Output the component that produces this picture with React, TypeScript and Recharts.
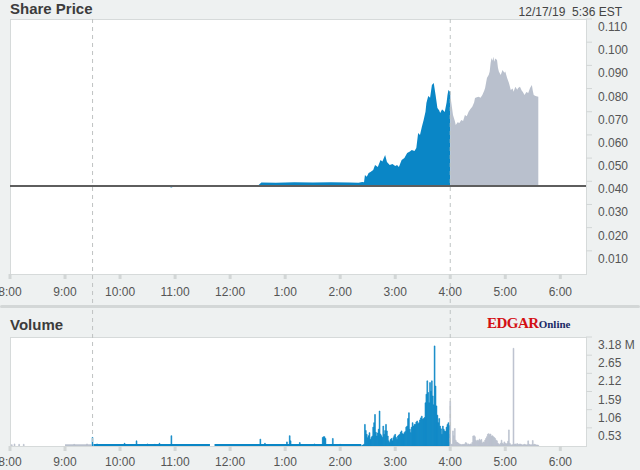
import React from 'react'
import { ComposedChart, Area, Bar, Cell, XAxis, YAxis, ReferenceLine } from 'recharts'

// all times are minutes after 8:00 AM
const hourTicks = [0, 60, 120, 180, 240, 300, 360, 420, 480, 540, 600]
const priceTicks = [0.01, 0.02, 0.03, 0.04, 0.05, 0.06, 0.07, 0.08, 0.09, 0.1, 0.11]
const volumeTicks = [0.53, 1.06, 1.59, 2.12, 2.65, 3.18]
const prevClose = 0.038
const openTime = 90
const closeTime = 480

const preTimes = [0, 16, 18, 60, 66, 72, 80, 90]
const prePrice = [0.038, 0.0376, 0.038, 0.038, 0.0376, 0.0378, 0.0376, 0.038]

const regTimes = [
  90, 96, 100, 104, 108, 114, 120, 126, 132, 170, 176, 180, 270, 274, 290, 310, 330, 350, 370, 380,
  384, 386, 387, 389, 391, 393, 396, 398, 401, 404, 406, 409, 411, 414, 417, 420, 422, 424, 427, 430,
  433, 436, 438, 441, 443, 445, 447, 449, 451, 453, 454, 456, 458, 460, 462, 464, 466, 468, 469, 471,
  472, 474, 476, 477, 478, 480,
]
const regPrice = [
  0.038, 0.038, 0.0384, 0.0376, 0.0384, 0.038, 0.0383, 0.0377, 0.038, 0.038, 0.0373, 0.038, 0.038, 0.0395, 0.0394, 0.0396, 0.0395, 0.0396, 0.0395, 0.0394,
  0.0397, 0.0396, 0.0427, 0.042, 0.0436, 0.044, 0.0449, 0.047, 0.0462, 0.0492, 0.0485, 0.0513, 0.0483, 0.047, 0.0474, 0.0466, 0.047, 0.0462, 0.0492, 0.05,
  0.0522, 0.0528, 0.0535, 0.0531, 0.0544, 0.0608, 0.06, 0.0634, 0.0664, 0.07, 0.0738, 0.0768, 0.076, 0.0815, 0.0824, 0.0772, 0.0716, 0.0705, 0.0695, 0.071,
  0.0707, 0.0699, 0.074, 0.0772, 0.0794, 0.0785,
]

const postTimes = [
  480, 481, 483, 485, 486, 488, 490, 492, 494, 496, 498, 500, 502, 504, 506, 507, 509, 511, 513, 515,
  517, 518, 520, 522, 523, 524, 525, 526, 527, 528, 529, 531, 532, 533, 535, 537, 539, 540, 542, 544,
  546, 548, 549, 551, 553, 554, 556, 558, 559, 561, 563, 565, 567, 569, 570, 571, 573, 576,
]
const postPrice = [
  0.0785, 0.0743, 0.0686, 0.066, 0.0643, 0.0655, 0.0651, 0.0664, 0.066, 0.0686, 0.068, 0.07, 0.0712, 0.0722, 0.074, 0.0759, 0.0762, 0.0765, 0.076, 0.0772,
  0.079, 0.0802, 0.0846, 0.086, 0.0873, 0.091, 0.0932, 0.092, 0.0937, 0.0916, 0.093, 0.0923, 0.089, 0.0873, 0.0858, 0.088, 0.0868, 0.0873, 0.0846, 0.0824,
  0.0794, 0.08, 0.0786, 0.0808, 0.0795, 0.0802, 0.0808, 0.079, 0.0786, 0.0772, 0.0785, 0.0781, 0.0802, 0.0815, 0.079, 0.0772, 0.0768, 0.0765,
]

// volume, millions of shares
const preVolTimes = [2, 5, 10, 15, 70, 84]
const preVol = [0.04, 0.06, 0.05, 0.05, 0.05, 0.06]
const quietVolTimes = [90, 95, 125, 138, 150, 158, 163, 176, 273, 278, 302, 305, 306, 316, 332, 341, 342, 343, 344, 352, 360]
const quietVol = [0.25, 0.06, 0.08, 0.15, 0.06, 0.05, 0.08, 0.3, 0.2, 0.08, 0.12, 0.3, 0.15, 0.1, 0.06, 0.25, 0.27, 0.27, 0.22, 0.22, 0.05]
const activeStart = 384 // one value a minute from 2:24
const activeVol = [
  0.02, 0.03, 0.05, 0.63, 0.45, 0.34, 0.24, 0.3, 0.39, 0.19, 0.25, 0.29, 0.55, 0.68, 0.92, 0.4, 0.29, 0.38, 0.49, 1.02,
  0.35, 0.3, 0.25, 0.58, 0.34, 0.45, 0.63, 0.44, 0.29, 0.15, 0.1, 0.19, 0.22, 0.15, 0.24, 0.3, 0.34, 0.25, 0.19, 0.29,
  0.32, 0.34, 0.4, 0.44, 0.36, 0.34, 0.39, 0.42, 0.55, 0.58, 0.8, 0.97, 0.49, 0.39, 0.55, 0.68, 0.58, 0.63, 0.63, 0.7,
  0.73, 0.65, 0.68, 0.76, 0.82, 0.87, 0.78, 0.8, 0.83, 1.26, 1.51, 1.9, 1.56, 1.26, 1.85, 1.6, 1.9, 1.46, 1.2, 2.92,
  1.75, 1.17, 0.9, 0.68, 0.8, 0.58, 0.5, 0.34, 0.58, 0.49, 0.44, 0.42, 0.55, 0.63, 0.68, 0.6,
]
const postStart = 480 // one value a minute from 4:00
const postVol = [
  1.3, 0.05, 0.05, 0.44, 0.3, 0.51, 0.17, 0.12, 0.1, 0.08, 0.06, 0.05, 0.04, 0.04, 0.05, 0.04, 0.06, 0.1, 0.08, 0.04,
  0.06, 0.04, 0.06, 0.05, 0.1, 0.29, 0.3, 0.27, 0.17, 0.13, 0.17, 0.15, 0.2, 0.16, 0.19, 0.08, 0.12, 0.1, 0.17, 0.22,
  0.27, 0.34, 0.36, 0.33, 0.35, 0.29, 0.3, 0.27, 0.25, 0.22, 0.17, 0.15, 0.08, 0.06, 0.04, 0.08, 0.17, 0.08, 0.06, 0.12,
  0.08, 0.06, 0.07, 0.14, 0.47, 0.08, 0.04, 0.03, 0.04, 2.85, 0.05, 0.06, 0.04, 0.07, 0.05, 0.04, 0.06, 0.05, 0.04, 0.03,
  0.04, 0.05, 0.04, 0.03, 0.04, 0.15, 0.05, 0.04, 0.03, 0.04, 0.16, 0.04, 0.05, 0.04, 0.03, 0.03, 0.02,
]
// the thin run of small trades along the bottom (two blue runs, broken near 11:40)
const floorPreTimes = [60, 89]
const floorPre = [0.05, 0.05]
const floorMorningTimes = [91, 218]
const floorMorning = [0.06, 0.06]
const floorAfternoonTimes = [223, 383]
const floorAfternoon = [0.06, 0.06]

const BLUE = '#0a86c6'
const GRAY = '#b9c0cd'
const BG = '#eef1f1'
const FONT = '"Liberation Sans", Arial, sans-serif'

function addRows(rows: Map<number, any>, times: number[], vals: (number | null)[], key: string) {
  times.forEach((t, i) => {
    const r = rows.get(t) ?? { t }
    r[key] = vals[i]
    rows.set(t, r)
  })
}

const priceMap = new Map<number, any>()
addRows(priceMap, preTimes, prePrice, 'pre')
addRows(priceMap, regTimes, regPrice, 'reg')
addRows(priceMap, postTimes, postPrice, 'post')
const priceData = [...priceMap.values()].sort((a, b) => a.t - b.t)

const volMap = new Map<number, any>()
addRows(volMap, preVolTimes, preVol, 'vol')
addRows(volMap, quietVolTimes, quietVol, 'vol')
addRows(volMap, activeVol.map((_, i) => activeStart + i), activeVol, 'vol')
addRows(volMap, postVol.map((_, i) => postStart + i), postVol, 'vol')
addRows(volMap, floorPreTimes, floorPre, 'floorPre')
addRows(volMap, floorMorningTimes, floorMorning, 'floorAm')
addRows(volMap, floorAfternoonTimes, floorAfternoon, 'floorPm')
const volumeData = [...volMap.values()].sort((a, b) => a.t - b.t)

const fmtHour = (t: number) => {
  const h = 8 + Math.round(t / 60)
  return `${((h - 1) % 12) + 1}:00`
}

function RightTick(props: any) {
  const { x, y, payload, kind } = props
  const v = payload.value
  let label = v.toFixed(3)
  if (kind === 'vol') label = v === 3.18 ? '3.18 M' : v.toFixed(2)
  return (
    <text x={x + 4} y={y + 8} fill="#555" fontSize={12} fontFamily={FONT} textAnchor="start" dominantBaseline="central">
      {label}
    </text>
  )
}

// dashed session marker that runs on past the plot area
const sessionLine = (extendUp: number, extendDown: number) => (p: any) => {
  const top = Math.min(p.y1, p.y2) - extendUp
  const bottom = Math.max(p.y1, p.y2) + extendDown
  return <line x1={p.x1} x2={p.x2} y1={top} y2={bottom} stroke="#bfc3c3" strokeWidth={1} strokeDasharray="4 4" />
}

const xAxisProps = {
  type: 'number' as const,
  dataKey: 't',
  domain: [0, 628],
  ticks: hourTicks,
  tickFormatter: fmtHour,
  interval: 0,
  allowDataOverflow: true,
  axisLine: false,
  tickSize: 5,
  tickLine: { stroke: '#d2d6d6', strokeWidth: 3 },
  tick: { fill: '#555', fontSize: 12, fontFamily: FONT },
}

export default function App() {
  return (
    <div style={{ position: 'absolute', left: 0, top: 0, width: 640, height: 470, background: BG, overflow: 'hidden', fontFamily: FONT }}>
      <div style={{ position: 'absolute', left: 10, top: 19, width: 577, height: 256, background: '#fff', border: '1px solid #d6dada', boxSizing: 'border-box' }} />
      <div style={{ position: 'absolute', left: 10, top: 337, width: 577, height: 110, background: '#fff', border: '1px solid #d6dada', boxSizing: 'border-box' }} />
      <div style={{ position: 'absolute', left: 10, top: 0, fontSize: 15, fontWeight: 'bold', color: '#3c3c3c', lineHeight: '18px' }}>Share Price</div>
      <div style={{ position: 'absolute', right: 18, top: 4, fontSize: 12, color: '#444', lineHeight: '16px', whiteSpace: 'pre' }}>12/17/19  5:36 EST</div>

      <div style={{ position: 'absolute', left: 0, top: 0 }}>
        <ComposedChart width={640} height={304} data={priceData} margin={{ top: 19, right: 0, bottom: 0, left: 10 }}>
          <XAxis {...xAxisProps} height={30} tickMargin={8} />
          <YAxis orientation="right" domain={[0, 0.11]} ticks={priceTicks} interval={0} width={54} allowDataOverflow
            axisLine={false} tickSize={6} tickLine={{ stroke: '#d2d6d6' }} tick={<RightTick kind="price" />} />
          <Area dataKey="pre" type="linear" baseValue={prevClose} stroke="none" fill={GRAY} fillOpacity={1} isAnimationActive={false} />
          <Area dataKey="reg" type="linear" baseValue={prevClose} stroke="none" fill={BLUE} fillOpacity={1} isAnimationActive={false} />
          <Area dataKey="post" type="linear" baseValue={prevClose} stroke="none" fill={GRAY} fillOpacity={1} isAnimationActive={false} />
          <ReferenceLine x={openTime} shape={sessionLine(0, 30)} />
          <ReferenceLine x={closeTime} shape={sessionLine(0, 30)} />
          <ReferenceLine y={prevClose} stroke="#5e5e5e" strokeWidth={2} />
        </ComposedChart>
      </div>

      <div style={{ position: 'absolute', left: 0, top: 305, width: 640, height: 3, background: '#d3d7d7', borderRadius: 2 }} />
      <div style={{ position: 'absolute', left: 10, top: 316, fontSize: 15, fontWeight: 'bold', color: '#3c3c3c', lineHeight: '18px' }}>Volume</div>
      <div style={{ position: 'absolute', left: 487, top: 314, lineHeight: '18px', fontFamily: '"Liberation Serif", "DejaVu Serif", serif', fontWeight: 'bold', whiteSpace: 'nowrap' }}>
        <span style={{ color: '#d40f14', fontSize: 15, letterSpacing: -0.5 }}>EDGAR</span>
        <span style={{ color: '#1b2a66', fontSize: 11 }}>Online</span>
      </div>

      <div style={{ position: 'absolute', left: 0, top: 310 }}>
        <ComposedChart width={640} height={160} data={volumeData} margin={{ top: 27, right: 0, bottom: 0, left: 10 }}>
          <XAxis {...xAxisProps} height={24} tickMargin={6} />
          <YAxis orientation="right" domain={[0, 3.18]} ticks={volumeTicks} interval={0} width={54} allowDataOverflow
            axisLine={false} tickSize={6} tickLine={{ stroke: '#d2d6d6' }} tick={<RightTick kind="vol" />} />
          <Area dataKey="floorPre" type="linear" connectNulls stroke="none" fill={GRAY} fillOpacity={1} isAnimationActive={false} />
          <Area dataKey="floorAm" type="linear" connectNulls stroke="none" fill={BLUE} fillOpacity={1} isAnimationActive={false} />
          <Area dataKey="floorPm" type="linear" connectNulls stroke="none" fill={BLUE} fillOpacity={1} isAnimationActive={false} />
          <Bar dataKey="vol" barSize={1} isAnimationActive={false}>
            {volumeData.map((r) => {
              const c = r.t >= openTime && r.t < closeTime ? BLUE : GRAY
              return <Cell key={r.t} fill={c} stroke={c} strokeWidth={0.6} />
            })}
          </Bar>
          <ReferenceLine x={openTime} shape={sessionLine(27, 0)} />
          <ReferenceLine x={closeTime} shape={sessionLine(27, 0)} />
        </ComposedChart>
      </div>
    </div>
  )
}
